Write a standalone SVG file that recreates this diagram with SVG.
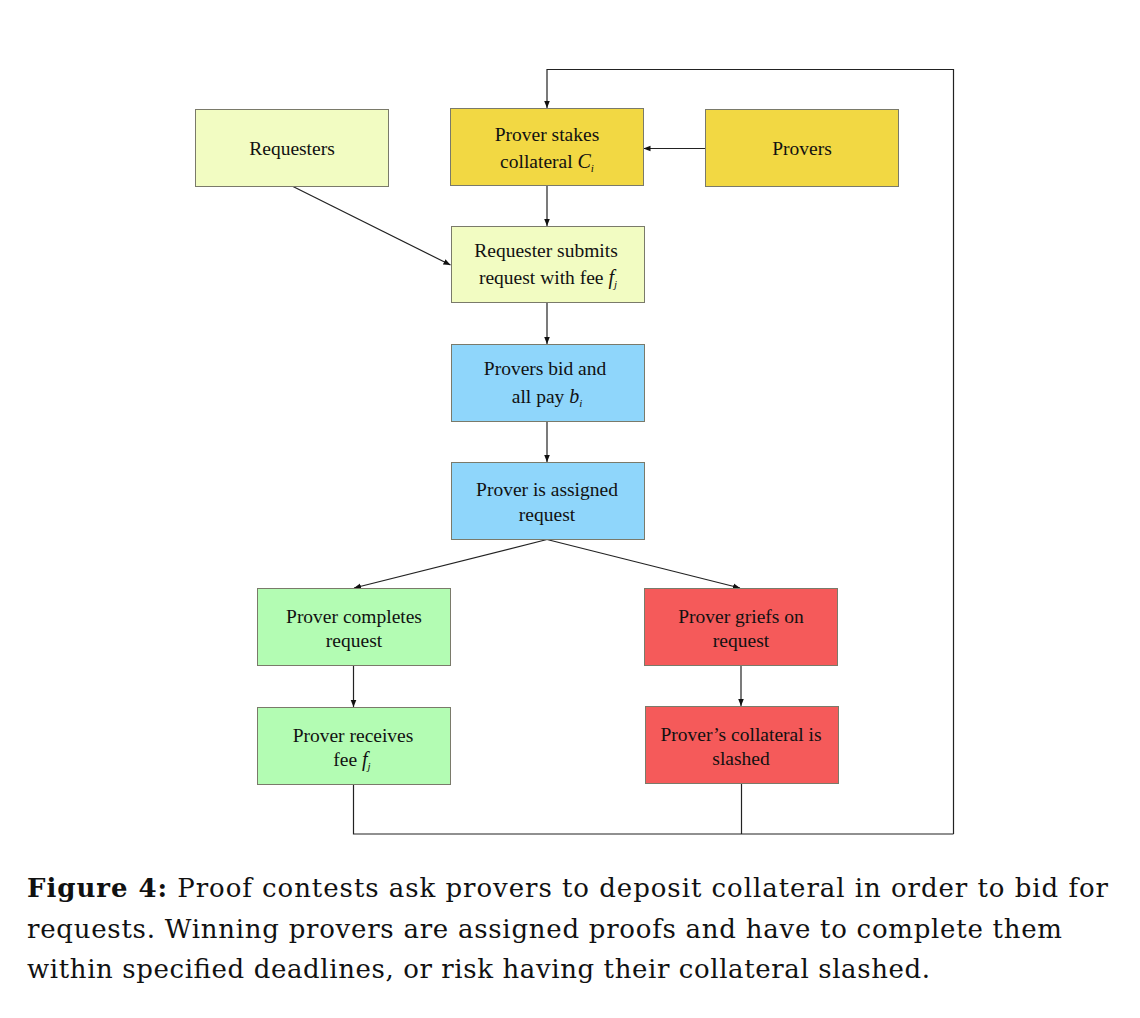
<svg xmlns="http://www.w3.org/2000/svg" width="1140" height="1018" viewBox="0 0 1140 1018">
<defs>
<marker id="ah" viewBox="0 0 10 10" refX="10" refY="5" markerWidth="7" markerHeight="7" markerUnits="userSpaceOnUse" orient="auto">
<path d="M0,1 L10,5 L0,9 Z" fill="#111"/>
</marker>
</defs>
<style>
.box{stroke:#7a7a6a;stroke-width:1}
.t{font-family:"Liberation Serif","Times New Roman",serif;font-size:19.5px;fill:#111;text-anchor:middle}
.c{stroke:#222;stroke-width:1.2;fill:none}
.cap{font-family:"DejaVu Serif","Liberation Serif",serif;font-size:26px;fill:#111}
</style>
<rect width="1140" height="1018" fill="#fff"/>
<g id="connectors">
<line class="c" x1="705" y1="148.5" x2="643.5" y2="148.5" marker-end="url(#ah)"/>
<line class="c" x1="292" y1="186" x2="450.5" y2="265" marker-end="url(#ah)"/>
<line class="c" x1="547" y1="185.5" x2="547" y2="226" marker-end="url(#ah)"/>
<line class="c" x1="547" y1="302.5" x2="547" y2="344" marker-end="url(#ah)"/>
<line class="c" x1="547" y1="421.5" x2="547" y2="462" marker-end="url(#ah)"/>
<line class="c" x1="547" y1="539.5" x2="354" y2="588" marker-end="url(#ah)"/>
<line class="c" x1="547" y1="539.5" x2="740" y2="588" marker-end="url(#ah)"/>
<line class="c" x1="353.5" y1="665.5" x2="353.5" y2="707" marker-end="url(#ah)"/>
<line class="c" x1="741" y1="665.5" x2="741" y2="706" marker-end="url(#ah)"/>
<polyline class="c" points="353.5,784.5 353.5,834 953.5,834"/>
<line class="c" x1="741.5" y1="783.5" x2="741.5" y2="834"/>
<polyline class="c" points="953.5,834 953.5,69.5 547,69.5 547,108" marker-end="url(#ah)"/>
</g>
<g id="requesters">
<rect class="box" x="195.5" y="109.5" width="193" height="77" fill="#f2fcc2"/>
<text class="t" x="292" y="155">Requesters</text>
</g>
<g id="prover-stakes">
<rect class="box" x="450.5" y="108.5" width="193" height="77" fill="#f2d843"/>
<text class="t" x="547" y="141">Prover stakes</text>
<text class="t" x="547" y="168">collateral <tspan font-style="italic" font-size="20">C</tspan><tspan font-style="italic" font-size="11" dy="4">i</tspan></text>
</g>
<g id="provers">
<rect class="box" x="705.5" y="109.5" width="193" height="77" fill="#f2d843"/>
<text class="t" x="802" y="155">Provers</text>
</g>
<g id="request-submit">
<rect class="box" x="451.5" y="226.5" width="193" height="76" fill="#f2fcc2"/>
<text class="t" x="546" y="257">Requester submits</text>
<text class="t" x="548" y="284">request with fee <tspan font-style="italic" font-size="20">f</tspan><tspan font-style="italic" font-size="11" dy="4">j</tspan></text>
</g>
<g id="provers-bid">
<rect class="box" x="451.5" y="344.5" width="193" height="77" fill="#8fd6fb"/>
<text class="t" x="545" y="375">Provers bid and</text>
<text class="t" x="547" y="403">all pay <tspan font-style="italic" font-size="20">b</tspan><tspan font-style="italic" font-size="11" dy="4">i</tspan></text>
</g>
<g id="prover-assigned">
<rect class="box" x="451.5" y="462.5" width="193" height="77" fill="#8fd6fb"/>
<text class="t" x="547" y="496">Prover is assigned</text>
<text class="t" x="547" y="521">request</text>
</g>
<g id="prover-completes">
<rect class="box" x="257.5" y="588.5" width="193" height="77" fill="#b3fcb3"/>
<text class="t" x="354" y="623">Prover completes</text>
<text class="t" x="354" y="647">request</text>
</g>
<g id="prover-griefs">
<rect class="box" x="644.5" y="588.5" width="193" height="77" fill="#f55a5a"/>
<text class="t" x="741" y="623">Prover griefs on</text>
<text class="t" x="741" y="647">request</text>
</g>
<g id="prover-receives">
<rect class="box" x="257.5" y="707.5" width="193" height="77" fill="#b3fcb3"/>
<text class="t" x="353" y="742">Prover receives</text>
<text class="t" x="352" y="766">fee <tspan font-style="italic" font-size="20">f</tspan><tspan font-style="italic" font-size="11" dy="4">j</tspan></text>
</g>
<g id="collateral-slashed">
<rect class="box" x="645.5" y="706.5" width="193" height="77" fill="#f55a5a"/>
<text class="t" x="741" y="741">Prover’s collateral is</text>
<text class="t" x="741" y="765">slashed</text>
</g>
<g id="caption">
<text class="cap" x="27" y="897" textLength="1081" lengthAdjust="spacing"><tspan font-weight="bold">Figure 4:</tspan> Proof contests ask provers to deposit collateral in order to bid for</text>
<text class="cap" x="27" y="938" textLength="1035" lengthAdjust="spacing">requests. Winning provers are assigned proofs and have to complete them</text>
<text class="cap" x="27" y="978" textLength="903" lengthAdjust="spacing">within specified deadlines, or risk having their collateral slashed.</text>
</g>
</svg>
